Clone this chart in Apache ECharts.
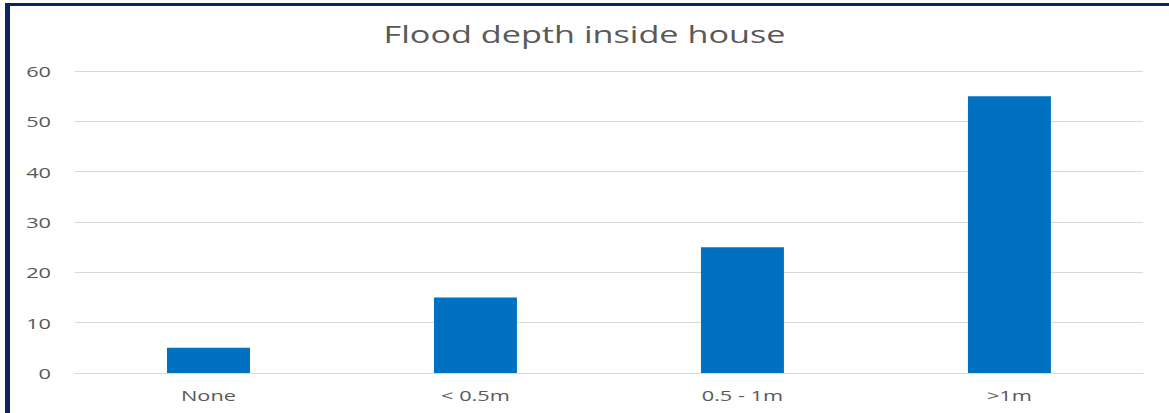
<!DOCTYPE html>
<html>
<head>
<meta charset="utf-8">
<script src="https://cdn.jsdelivr.net/npm/echarts@6/dist/echarts.min.js"></script>
<style>
  html, body { margin: 0; padding: 0; background: #fff; overflow: hidden; }
  #frame {
    position: absolute; left: 5px; top: 3px; width: 1164px; height: 410px;
    border-top: 3px solid #0c2461; border-left: 5px solid #0c2461;
    box-sizing: border-box;
  }
  /* the chart is laid out narrower and widened horizontally, giving the broad lettering */
  #chart {
    position: absolute; left: 0; top: 0; width: 806px; height: 413px;
    transform: scaleX(1.4504); transform-origin: 0 0;
  }
</style>
</head>
<body>
<div id="frame"></div>
<div id="chart"></div>
<script>
// Share of houses by depth of flood water inside
const categories = ['None', '< 0.5m', '0.5 - 1m', '>1m'];
const depthCounts = [5, 15, 25, 55];
const yTicks = { min: 0, max: 60, interval: 10 };

const chart = echarts.init(document.getElementById('chart'), null, { renderer: 'svg' });
chart.setOption({
  animation: false,
  title: {
    text: 'Flood depth inside house',
    left: 'center',
    top: 17,
    textStyle: { fontFamily: 'Open Sans', fontSize: 23.6, fontWeight: 'normal', color: '#595959' }
  },
  grid: { left: 51.7, right: 18, top: 71, bottom: 40, containLabel: false },
  xAxis: {
    type: 'category',
    data: categories,
    axisLine: { lineStyle: { color: '#d9d9d9' } },
    axisTick: { show: false },
    axisLabel: { fontFamily: 'Open Sans', fontSize: 15, color: '#595959', margin: 14 }
  },
  yAxis: {
    type: 'value',
    min: yTicks.min, max: yTicks.max, interval: yTicks.interval,
    axisLine: { show: false },
    axisTick: { show: false },
    splitLine: { lineStyle: { color: '#d9d9d9', width: 1 } },
    axisLabel: { fontFamily: 'Open Sans', fontSize: 15, color: '#595959', margin: 16.5 }
  },
  series: [{
    type: 'bar',
    data: depthCounts,
    barWidth: 57.2,
    itemStyle: { color: '#0070c0' }
  }]
});
</script>
</body>
</html>
